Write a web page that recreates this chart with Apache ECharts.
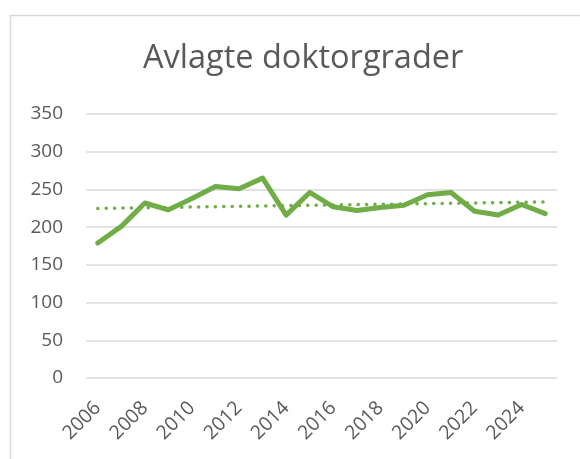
<!DOCTYPE html>
<html><head><meta charset="utf-8">
<script src="https://cdn.jsdelivr.net/npm/echarts@6/dist/echarts.min.js"></script>
<style>html,body{margin:0;padding:0;background:#fff}#c{width:580px;height:459px}</style>
</head><body><div id="c"></div>
<script>
const years = ['2006','2007','2008','2009','2010','2011','2012','2013','2014','2015','2016','2017','2018','2019','2020','2021','2022','2023','2024','2025'];
const values = [179,201,232,223,238,254,251,265,216,246,227,222,226,229,243,246,221,216,230,218];
const yTicks = [0,50,100,150,200,250,300,350];

// linear trendline (least squares) from the data
const n = values.length;
let sx=0, sy=0, sxx=0, sxy=0;
values.forEach((v,i)=>{sx+=i; sy+=v; sxx+=i*i; sxy+=i*v;});
const slope = (n*sxy - sx*sy)/(n*sxx - sx*sx);
const icpt = (sy - slope*sx)/n;
const trend = values.map((v,i)=>+(icpt + slope*i).toFixed(2));

const chart = echarts.init(document.getElementById('c'));
const txt = '#595959';
chart.setOption({
  animation:false,
  backgroundColor:'#fff',
  graphic:[{type:'rect',shape:{x:10.5,y:15.5,width:700,height:600},style:{fill:'none',stroke:'#d9d9d9',lineWidth:1.5},silent:true}],
  title:{text:'Avlagte doktorgrader',left:138,top:37,textStyle:{fontFamily:'Open Sans',fontWeight:'normal',fontSize:32.5,color:txt}},
  grid:{left:86,right:23,top:114,bottom:81,containLabel:false},
  xAxis:{type:'category',data:years,boundaryGap:true,
    axisLine:{show:false},axisTick:{show:false},
    axisLabel:{interval:1,rotate:45,color:txt,fontFamily:'Open Sans',fontSize:19.5,margin:27}},
  yAxis:{type:'value',min:0,max:350,interval:50,
    axisLine:{show:false},axisTick:{show:false},
    axisLabel:{color:txt,fontFamily:'Open Sans',fontSize:19,margin:23,
      formatter:v=>yTicks.includes(v)?String(v):''},
    splitLine:{lineStyle:{color:'#d9d9d9',width:1.5}}},
  series:[
    {type:'line',data:values,symbol:'none',lineStyle:{color:'#70AD47',width:5,cap:'round',join:'round'},z:3},
    {type:'line',data:trend,symbol:'none',lineStyle:{color:'#70AD47',width:3.5,type:[0.1,8.3],cap:'round'},z:2}
  ]
});
</script></body></html>
